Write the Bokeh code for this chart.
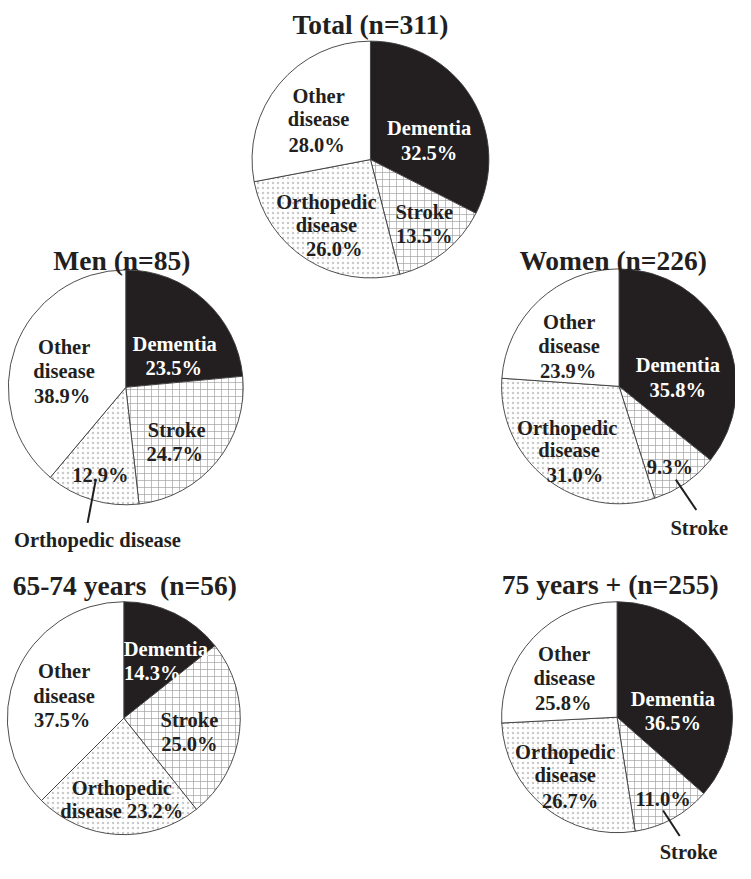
import numpy as np
from bokeh.plotting import figure
from bokeh.models import Range1d, ColumnDataSource
from bokeh.core.properties import value
from bokeh.embed import file_html
from bokeh.resources import INLINE

# ---------------- data ----------------
categories = ["Dementia", "Stroke", "Orthopedic disease", "Other disease"]
group_titles = ["Total (n=311)", "Men (n=85)", "Women (n=226)",
                "65-74 years\u00a0 (n=56)", "75 years + (n=255)"]
total_pct = [32.5, 13.5, 26.0, 28.0]
men_pct = [23.5, 24.7, 12.9, 38.9]
women_pct = [35.8, 9.3, 31.0, 23.9]
age_65_74_pct = [14.3, 25.0, 23.2, 37.5]
age_75_plus_pct = [36.5, 11.0, 26.7, 25.8]
series = [total_pct, men_pct, women_pct, age_65_74_pct, age_75_plus_pct]

# ---------------- styles / layout ----------------
REF_W, REF_H = 751, 879
FONT = value("Liberation Serif")
INK = "#231f20"
slice_fill = [INK, "white", "white", "white"]
slice_text = ["white", INK, INK, INK]

def fy(Y):
    return REF_H - Y

# (center x, center y, radius, title x, title baseline y) in reference pixels
pie_layout = [
    (378, 162, 121, 378, 24),
    (128, 394, 120, 124, 265),
    (632, 393, 120, 626, 265),
    (126, 731, 119, 127, 596),
    (630, 730, 118, 623, 595),
]

# label lines: (slice index, template, x, baseline y)
label_layout = [
    [(0, "{w0}", 438, 130), (0, "{pct}", 438, 155),
     (1, "{w0}", 433, 215), (1, "{pct}", 433, 240),
     (2, "{w0}", 333, 205), (2, "{w1}", 333, 229), (2, "{pct}", 341, 253),
     (3, "{w0}", 325, 97), (3, "{w1}", 325, 121), (3, "{pct}", 323, 147)],
    [(0, "{w0}", 178, 350), (0, "{pct}", 177, 374),
     (1, "{w0}", 180, 437), (1, "{pct}", 178, 462),
     (2, "{pct}", 102, 483), (2, "{name}", 99, 550),
     (3, "{w0}", 65, 353), (3, "{w1}", 65, 377), (3, "{pct}", 63, 403)],
    [(0, "{w0}", 692, 371), (0, "{pct}", 692, 397),
     (1, "{pct}", 684, 475), (1, "{name}", 714, 537),
     (2, "{w0}", 579, 435), (2, "{w1}", 581, 458), (2, "{pct}", 587, 483),
     (3, "{w0}", 581, 327), (3, "{w1}", 581, 352), (3, "{pct}", 580, 377)],
    [(0, "{w0}", 169, 661), (0, "{pct}", 155, 685),
     (1, "{w0}", 193, 733), (1, "{pct}", 193, 757),
     (2, "{w0}", 124, 802), (2, "{w1} {pct}", 124, 826),
     (3, "{w0}", 65, 683), (3, "{w1}", 65, 708), (3, "{pct}", 63, 733)],
    [(0, "{w0}", 687, 711), (0, "{pct}", 687, 736),
     (1, "{pct}", 677, 813), (1, "{name}", 703, 867),
     (2, "{w0}", 577, 765), (2, "{w1}", 577, 789), (2, "{pct}", 582, 815),
     (3, "{w0}", 576, 666), (3, "{w1}", 576, 690), (3, "{pct}", 575, 716)],
]
# labels drawn outside their slice (black text)
outside = {(1, 2), (2, 1), (4, 1)}

# leader lines: (x0, y0, x1, y1)
leaders = [(97, 490, 89, 532), (690, 488, 711, 519), (677, 825, 694, 851)]

p = figure(width=735, height=863, x_range=Range1d(0, REF_W), y_range=Range1d(0, REF_H),
           output_backend="svg", toolbar_location=None, min_border=0,
           x_axis_location=None, y_axis_location=None)
p.xgrid.visible = False
p.ygrid.visible = False
p.outline_line_color = None

for gi, vals in enumerate(series):
    cx, cy, r, tx, ty = pie_layout[gi]
    v = np.array(vals, dtype=float)
    cum = np.concatenate([[0.0], np.cumsum(v)])
    starts = np.pi / 2 - 2 * np.pi * cum[:-1] / 100.0
    ends = np.pi / 2 - 2 * np.pi * cum[1:] / 100.0
    for si in range(len(categories)):
        kw = dict(x=cx, y=fy(cy), radius=r, start_angle=starts[si], end_angle=ends[si],
                  direction="clock", fill_color=slice_fill[si],
                  line_color="#3a3a3a", line_width=0.9)
        if si == 1:
            kw.update(hatch_pattern="+", hatch_color="#a4a4a4", hatch_scale=7,
                      hatch_weight=0.7)
        elif si == 2:
            kw.update(hatch_pattern=".", hatch_color="#cacaca", hatch_scale=5,
                      hatch_weight=0.3)
        p.wedge(**kw)

    # title
    p.text(x=[tx], y=[fy(ty)], text=[group_titles[gi]], text_font=FONT,
           text_font_style="bold", text_font_size="27.5px", text_color=INK,
           text_align="center", text_baseline="alphabetic")

    # labels
    xs, ys, texts, colors = [], [], [], []
    for si, tpl, lx, ly in label_layout[gi]:
        name = categories[si]
        words = name.split(" ")
        txt = tpl.format(name=name, w0=words[0], w1=words[1] if len(words) > 1 else "",
                         pct=f"{vals[si]:.1f}%")
        xs.append(lx)
        ys.append(fy(ly))
        texts.append(txt)
        col = slice_text[si]
        if tpl == "{name}" and (gi, si) in outside:
            col = INK
        colors.append(col)
    src = ColumnDataSource(dict(x=xs, y=ys, text=texts, color=colors))
    p.text(x="x", y="y", text="text", text_color="color", source=src, text_font=FONT,
           text_font_style="bold", text_font_size="20.5px", text_align="center",
           text_baseline="alphabetic")

p.segment(x0=[l[0] for l in leaders], y0=[fy(l[1]) for l in leaders],
          x1=[l[2] for l in leaders], y1=[fy(l[3]) for l in leaders],
          line_color=INK, line_width=2)

open("out.html", "w").write(file_html(p, INLINE))
